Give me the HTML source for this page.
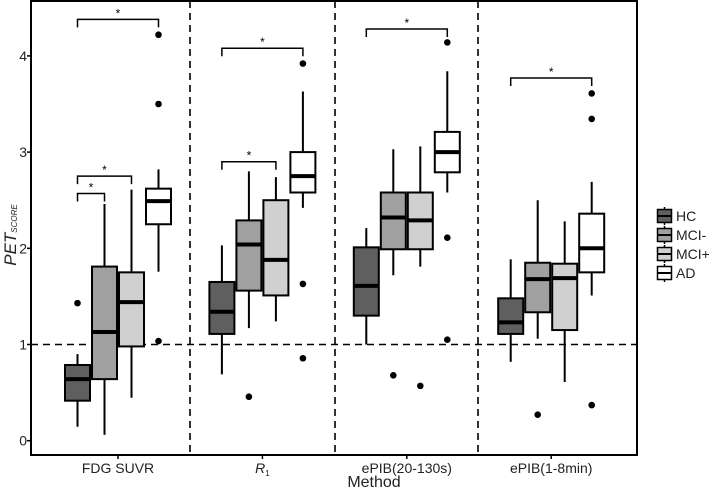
<!DOCTYPE html>
<html><head><meta charset="utf-8"><style>
body{margin:0;background:#fff}
svg{display:block;font-family:"Liberation Sans",Arial,sans-serif}
</style></head><body>
<svg id="chart" width="709" height="490"></svg>
<script>
const methods=["FDG SUVR","R1","ePIB(20-130s)","ePIB(1-8min)"];
const groups=["HC","MCI-","MCI+","AD"];
const colors=["#5f5f5f","#a0a0a0","#d0d0d0","#ffffff"];
// [low, q1, median, q3, high] per method per group
const stats=[
 [[0.145,0.416,0.64,0.787,0.90],[0.06,0.64,1.13,1.81,2.46],[0.447,0.98,1.44,1.75,2.61],[1.757,2.25,2.49,2.62,2.82]],
 [[0.69,1.11,1.34,1.65,2.03],[1.17,1.56,2.04,2.29,2.80],[1.24,1.51,1.88,2.50,2.74],[2.42,2.58,2.75,3.00,3.63]],
 [[1.00,1.30,1.61,2.01,2.21],[1.72,1.99,2.32,2.58,3.03],[1.81,1.99,2.29,2.58,3.06],[2.58,2.79,3.00,3.21,3.84]],
 [[0.82,1.11,1.23,1.48,1.885],[1.06,1.335,1.68,1.85,2.50],[0.61,1.15,1.69,1.84,2.28],[1.51,1.75,2.00,2.36,2.69]]
];
const outliers=[
 [[1.43],[],[],[1.036,3.50,4.22]],
 [[],[0.457],[],[3.92,1.63,0.857]],
 [[],[0.68],[0.57],[4.14,2.11,1.05]],
 [[],[0.27],[],[3.61,3.345,0.37]]
];
// brackets: [method, fromGroup, toGroup, level]
const brackets=[[0,0,3,4.38],[0,0,2,2.75],[0,0,1,2.57],[1,0,3,4.08],[1,0,2,2.90],[2,0,3,4.28],[3,0,3,3.77]];
const yTicks=[0,1,2,3,4];

const L=31,R=637,T=1,B=455;
const y=v=>440.7-96.2*v;
const xc=i=>118+144.4*i;
const xg=(i,g)=>xc(i)+(g-1.5)*27;
const NS="http://www.w3.org/2000/svg";
const svg=document.getElementById('chart');
function mk(tag,attrs,parent){const e=document.createElementNS(NS,tag);for(const k in attrs)e.setAttribute(k,attrs[k]);(parent||svg).appendChild(e);return e;}

let e=mk('line',{x1:L,x2:R,y1:y(1),y2:y(1),stroke:'#000','stroke-width':1.6,'stroke-dasharray':'7,5'});


[190,335,478].forEach((sx,k)=>{
 const l=mk('line',{x1:sx,x2:sx,y1:T,y2:B,stroke:'#000','stroke-width':1.6,'stroke-dasharray':'7,5'});
 
 
});

stats.forEach((ms,i)=>ms.forEach((s,g)=>{
 const cx=xg(i,g),w=25;
 const grp=mk('g',{});
 
 
 mk('line',{x1:cx,x2:cx,y1:y(s[0]),y2:y(s[4]),stroke:'#000','stroke-width':2},grp);
 mk('rect',{x:cx-w/2,y:y(s[3]),width:w,height:y(s[1])-y(s[3]),fill:colors[g],stroke:'#000','stroke-width':2},grp);
 mk('line',{x1:cx-w/2,x2:cx+w/2,y1:y(s[2]),y2:y(s[2]),stroke:'#000','stroke-width':4},grp);
 outliers[i][g].forEach(v=>{
  const c=mk('circle',{cx:cx,cy:y(v),r:3.3,fill:'#000'});
  
  
 });
}));

brackets.forEach(b=>{
 const x1=xg(b[0],b[1]),x2=xg(b[0],b[2]),yy=y(b[3]);
 const p=mk('path',{d:`M${x1},${yy+8}V${yy}H${x2}V${yy+8}`,fill:'none',stroke:'#000','stroke-width':1.5});
 
 
 const t=mk('text',{x:(x1+x2)/2,y:yy-2,'text-anchor':'middle','font-size':12});
 t.textContent='*';
 
 
});

e=mk('rect',{x:L,y:T,width:R-L,height:B-T,fill:'none',stroke:'#000','stroke-width':2});



yTicks.forEach(v=>{
 mk('line',{x1:L-4,x2:L,y1:y(v),y2:y(v),stroke:'#000','stroke-width':1.5});
 const t=mk('text',{x:L-4,y:y(v)+5,'text-anchor':'end','font-size':14,fill:'#222'});
 t.textContent=v;
 
 
});
methods.forEach((m,i)=>{
 mk('line',{x1:xc(i),x2:xc(i),y1:B,y2:B+4,stroke:'#000','stroke-width':1.5});
 const t=mk('text',{x:xc(i),y:B+18,'text-anchor':'middle','font-size':14,fill:'#222'});
 if(m==='R1'){t.setAttribute('font-style','italic');t.textContent='R';const s=mk('tspan',{'font-size':8,dy:3},t);s.textContent='1';s.setAttribute('font-style','normal');}
 else t.textContent=m;
 
 
});

e=mk('text',{x:374,y:487,'text-anchor':'middle','font-size':16,fill:'#222'});
e.textContent='Method';


e=mk('text',{transform:'translate(16,235) rotate(-90)','text-anchor':'middle','font-size':17,'font-style':'italic',fill:'#222'});
e.textContent='PET';
const sub=mk('tspan',{'font-size':8,dy:1},e);sub.textContent='SCORE';



groups.forEach((g,k)=>{
 const cy=216+19*k;
 const lg=mk('g',{});
 
 
 mk('line',{x1:664.5,x2:664.5,y1:cy-9,y2:cy+9,stroke:'#000','stroke-width':1.5},lg);
 mk('rect',{x:657.5,y:cy-6.5,width:14,height:13,fill:colors[k],stroke:'#000','stroke-width':1.5},lg);
 mk('line',{x1:657.5,x2:671.5,y1:cy,y2:cy,stroke:'#000','stroke-width':2},lg);
 const t=mk('text',{x:676,y:cy+5,'font-size':14,fill:'#222'},lg);
 t.textContent=g;
});
</script>
</body></html>
